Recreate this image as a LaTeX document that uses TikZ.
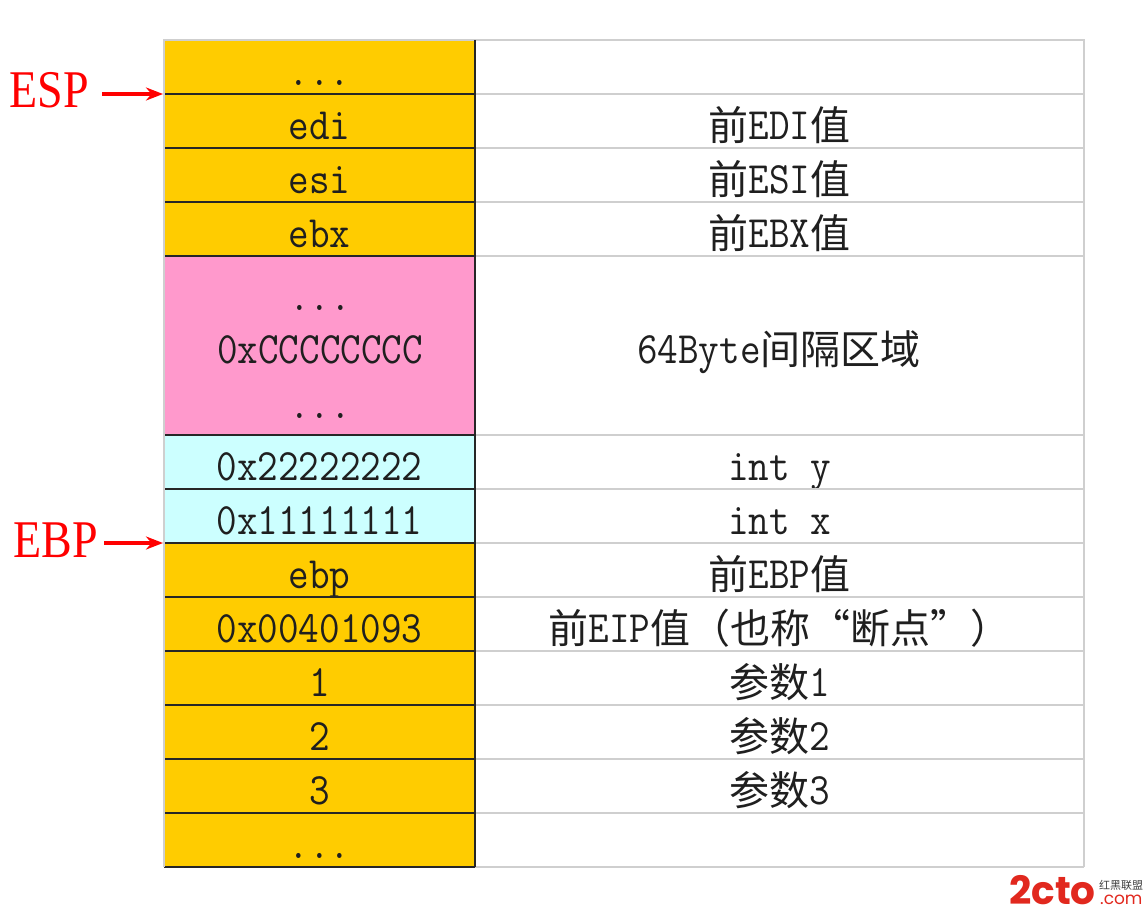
\documentclass[tikz,border=0pt]{standalone}
\usepackage{fontspec}
\setmainfont{Liberation Serif}
\setmonofont{Latin Modern Mono}
\newfontfamily\cjk{Noto Sans CJK SC}
\newfontfamily\logofont{Poppins}
\usetikzlibrary{arrows.meta}
\definecolor{cOrange}{HTML}{FFCC00}
\definecolor{cPink}{HTML}{FF99CC}
\definecolor{cCyan}{HTML}{CCFFFF}
\definecolor{cGrey}{HTML}{CFCFCF}
\definecolor{cLogo}{HTML}{E1281E}
\newcommand\zh[1]{\raisebox{-1pt}{\scalebox{1}[.9]{\cjk\fontsize{40}{40}\selectfont #1}}}
\tikzset{
  x=1pt,y=-1pt,
  cellbox/.style={inner sep=0pt,outer sep=0pt,minimum width=#1,text width=0pt},
  lab/.style={inner sep=0pt,outer sep=0pt,anchor=base,text=black!88,xscale=1,yscale=1.12,transform shape,font=\ttfamily\fontsize{40}{40}\selectfont},
  darkline/.style={draw=black!85,line width=1.8pt},
  greyline/.style={draw=cGrey,line width=1.8pt},
  ptr/.style={draw=red,line width=3.2pt,-{Stealth[length=17pt,width=13pt]},shorten >=1pt},
  reglabel/.style={inner sep=0pt,outer sep=0pt,text=red,font=\fontsize{50}{50}\selectfont,xscale=.92,yscale=1.06,transform shape}
}
% name, top, bottom, fill, left text, right text
\newcommand\tabrow[6]{%
  \pgfmathsetmacro\rh{#3-#2}\pgfmathsetmacro\rm{(#2+#3)/2}%
  \node[cellbox=311pt,minimum height=\rh pt,fill=#4] (L#1) at (319.5,\rm) {};
  \node[cellbox=609pt,minimum height=\rh pt,fill=white] (R#1) at (779.5,\rm) {};
  \node[lab] (LT#1) at ([yshift=8.5pt]L#1.south) {#5};
  \node[lab] (RT#1) at ([yshift=8.5pt]R#1.south) {#6};
}
\newcommand\rowlines[1]{%
  \draw[greyline] (R#1.south west) -- (R#1.south east);
  \draw[darkline] (L#1.south west) -- (L#1.south east);
}
\begin{document}
\begin{tikzpicture}
\useasboundingbox (0,0) rectangle (1146,916);
\tabrow{a}{40}{94}{cOrange}{...}{}
\tabrow{b}{94}{148}{cOrange}{edi}{\zh{前}EDI\zh{值}}
\tabrow{c}{148}{202}{cOrange}{esi}{\zh{前}ESI\zh{值}}
\tabrow{d}{202}{256}{cOrange}{ebx}{\zh{前}EBX\zh{值}}
\tabrow{e}{256}{435}{cPink}{}{}
\tabrow{f}{435}{489}{cCyan}{0x22222222}{int y}
\tabrow{g}{489}{543}{cCyan}{0x11111111}{int x}
\tabrow{h}{543}{597}{cOrange}{ebp}{\zh{前}EBP\zh{值}}
\tabrow{i}{597}{651}{cOrange}{0x00401093}{\zh{前}EIP\zh{值（也称}\makebox[40pt][r]{\zh{“}}\zh{断点}\makebox[40pt][l]{\zh{”}}\zh{）}}
\tabrow{j}{651}{705}{cOrange}{1}{\zh{参数}1}
\tabrow{k}{705}{759}{cOrange}{2}{\zh{参数}2}
\tabrow{l}{759}{813}{cOrange}{3}{\zh{参数}3}
\tabrow{m}{813}{867}{cOrange}{...}{}
\rowlines{a}\rowlines{b}\rowlines{c}\rowlines{d}\rowlines{e}\rowlines{f}\rowlines{g}
\rowlines{h}\rowlines{i}\rowlines{j}\rowlines{k}\rowlines{l}\rowlines{m}
% pink block
\node[lab] (dotsTop) at (320,310) {...};
\node[lab] (ccc) at (320,363) {0xCCCCCCCC};
\node[lab] (dotsBot) at (320,418) {...};
\node[lab] (gap) at (779,363) {64Byte\zh{间隔区域}};
% outer frame
\draw[greyline] (Rm.south east) -- (Ra.north east) -- (Ra.north west);
\draw[greyline] (La.north east) -- (La.north west) -- (Lm.south west);
\draw[darkline] (La.north east) -- (Lm.south east);
% register pointers
\node[reglabel] (ESP) at (49,90) {ESP};
\node[reglabel] (EBP) at (56,540) {EBP};
\coordinate (espTail) at (102,94);
\coordinate (ebpTail) at (104,543);
\draw[ptr] (espTail) -- (La.south west);
\draw[ptr] (ebpTail) -- (Lg.south west);
% watermark
\node[inner sep=0pt,anchor=base west,text=cLogo,font=\logofont\bfseries\fontsize{39}{39}\selectfont] (logoA) at (1009,904) {2cto};
\node[inner sep=0pt,anchor=base west,text=cLogo,font=\logofont\fontsize{17}{17}\selectfont] (logoB) at (1100,904) {.com};
\node[inner sep=0pt,anchor=base west,text=black!75,font=\cjk\fontsize{11}{11}\selectfont] (logoC) at (1099,889) {红黑联盟};
\end{tikzpicture}
\end{document}
